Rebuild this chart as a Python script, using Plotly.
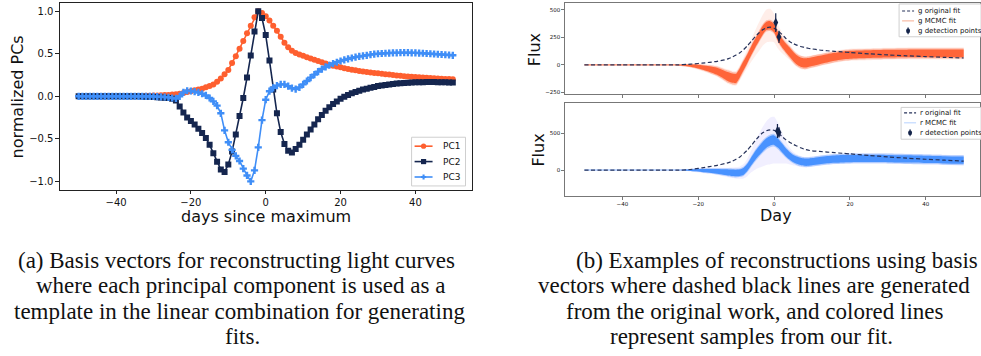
import plotly.graph_objects as go

# ---------------- Left panel data: normalized PCs vs days since maximum ----------------
days = list(range(-50, 51))

pc1 = [0.0] * 15 + [
    0.003, 0.004, 0.005, 0.006, 0.007, 0.008, 0.01, 0.012, 0.014, 0.016,
    0.02, 0.025, 0.03, 0.04, 0.05, 0.06, 0.07, 0.08, 0.09, 0.105,
    0.12, 0.14, 0.17, 0.21, 0.26, 0.31, 0.39, 0.47, 0.56, 0.65,
    0.74, 0.83, 0.93, 1.0, 0.98, 0.94, 0.89, 0.83, 0.77, 0.70,
    0.63, 0.575, 0.535, 0.51, 0.49, 0.475, 0.46, 0.445, 0.43, 0.415,
    0.40, 0.385, 0.37, 0.36, 0.35, 0.34, 0.33, 0.32, 0.312, 0.305,
    0.297, 0.29, 0.285, 0.28, 0.275, 0.27, 0.265, 0.26, 0.255, 0.25,
    0.245, 0.24, 0.237, 0.234, 0.231, 0.228, 0.225, 0.222, 0.219, 0.216,
    0.213, 0.21, 0.207, 0.204, 0.202, 0.2]

pc2 = [0.0] * 17 + [
    -0.002, -0.004, -0.006, -0.008, -0.01, -0.013, -0.016, -0.02, -0.03, -0.05,
    -0.12, -0.19, -0.25, -0.29, -0.33, -0.38, -0.43, -0.49, -0.57, -0.67,
    -0.77, -0.86, -0.89, -0.80, -0.65, -0.45, -0.23, -0.02, 0.22, 0.48,
    0.76, 1.0, 0.92, 0.72, 0.42, 0.08, -0.2, -0.42, -0.56, -0.64,
    -0.66, -0.62, -0.57, -0.51, -0.45, -0.39, -0.33, -0.27, -0.22, -0.17,
    -0.13, -0.09, -0.06, -0.03, -0.005, 0.015, 0.035, 0.05, 0.065, 0.08,
    0.09, 0.10, 0.11, 0.12, 0.127, 0.134, 0.14, 0.145, 0.15, 0.154,
    0.157, 0.16, 0.162, 0.164, 0.165, 0.166, 0.167, 0.167, 0.167, 0.166,
    0.165, 0.164, 0.163, 0.162]

pc3 = [0.0] * 20 + [
    -0.002, -0.004, -0.006, -0.008, -0.012, -0.02, -0.025, 0.0, 0.045, 0.065,
    0.062, 0.055, 0.045, 0.03, 0.01, -0.02, -0.06, -0.11, -0.2, -0.4,
    -0.54, -0.63, -0.70, -0.76, -0.85, -0.93, -1.0, -0.87, -0.6, -0.28,
    -0.04, 0.06, 0.1, 0.125, 0.14, 0.14, 0.12, 0.095, 0.085, 0.105,
    0.14, 0.18, 0.22, 0.255, 0.29, 0.32, 0.345, 0.365, 0.385, 0.40,
    0.415, 0.428, 0.44, 0.45, 0.46, 0.468, 0.475, 0.482, 0.49, 0.495,
    0.50, 0.503, 0.506, 0.508, 0.51, 0.511, 0.512, 0.512, 0.512, 0.511,
    0.51, 0.508, 0.506, 0.503, 0.5, 0.497, 0.494, 0.491, 0.488, 0.485,
    0.482]

pc_names = ["PC1", "PC2", "PC3"]
x_ticks_left = [-40, -20, 0, 20, 40]
y_ticks_left = [-1.0, -0.5, 0.0, 0.5, 1.0]

# ---------------- Right panels data: reconstructions (flux vs day) ----------------
fit_days = [-50, -45, -40, -35, -30, -25, -23, -21, -19, -17, -15, -13,
            -12, -11, -10, -9, -8, -7, -6, -5, -4, -3, -2, -1,
            0, 1, 2, 3, 4, 5, 6, 7, 8, 9, 10,
            12, 14, 16, 18, 20, 25, 30, 35, 40, 45, 50]

g_orig = [0, 0, 0, 0, 0, 1, 5, 10, 16, 24, 33, 47,
          58, 72, 90, 110, 140, 175, 215, 255, 290, 320, 338, 343,
          333, 310, 280, 245, 215, 195, 180, 168, 160, 152, 146,
          136, 129, 123, 118, 113, 101, 91, 83, 76, 69, 63]
g_mcmc = [0, 0, 0, 0, 0, -1, -4, -10, -22, -38, -58, -92,
          -108, -120, -122, -70, -5, 60, 130, 195, 255, 315, 355, 360,
          335, 260, 205, 160, 120, 80, 46, 26, 18, 22, 30,
          45, 60, 74, 85, 92, 98, 102, 104, 105, 105, 105]
g_core = [3, 3, 3, 3, 3, 4, 8, 14, 20, 26, 32, 38,
          42, 42, 42, 42, 42, 40, 40, 40, 40, 40, 38, 38,
          38, 40, 40, 40, 42, 42, 42, 42, 42, 40, 40,
          38, 38, 36, 36, 36, 35, 35, 35, 35, 35, 35]
g_halo = [5, 5, 5, 5, 5, 8, 14, 24, 32, 40, 50, 60,
          66, 68, 68, 70, 75, 85, 100, 115, 130, 140, 150, 150,
          130, 110, 95, 80, 70, 66, 64, 62, 60, 58, 58,
          56, 55, 55, 55, 55, 55, 55, 55, 55, 55, 55]

r_orig = [0, 0, 0, 0, 0, 0, 2, 15, 30, 48, 65, 88,
          102, 122, 148, 180, 225, 275, 335, 400, 460, 510, 538, 550,
          545, 510, 465, 420, 385, 355, 330, 305, 285, 272, 264,
          255, 246, 238, 230, 222, 200, 180, 163, 148, 135, 122]
r_mcmc = [0, 0, 0, 0, 0, 0, 0, -2, -5, -10, -18, -28,
          -33, -38, -40, -35, -15, 40, 120, 195, 260, 320, 370, 400,
          410, 370, 310, 250, 200, 160, 135, 118, 108, 108, 115,
          130, 142, 150, 155, 158, 160, 158, 152, 146, 140, 135]
r_core = [3, 3, 3, 3, 3, 4, 8, 14, 20, 26, 32, 38,
          42, 45, 45, 45, 48, 50, 55, 60, 62, 65, 65, 65,
          65, 62, 60, 56, 52, 50, 50, 50, 50, 50, 50,
          50, 50, 50, 50, 50, 50, 50, 50, 50, 50, 50]
r_halo = [5, 5, 5, 5, 5, 8, 14, 24, 34, 42, 50, 60,
          66, 72, 78, 85, 100, 120, 150, 190, 230, 270, 300, 320,
          320, 280, 220, 160, 120, 95, 80, 75, 72, 70, 70,
          70, 70, 70, 70, 70, 70, 70, 70, 70, 70, 70]

g_det_day = [0.45, 1.3]
g_det_flux = [385, 255]
g_det_err = [85, 55]
r_det_day = [0.9, 1.3]
r_det_flux = [535, 515]
r_det_err = [95, 70]

x_ticks_right = [-40, -20, 0, 20, 40]
y_ticks_g = [-250, 0, 250, 500]
y_ticks_r = [0, 500]

g_legend_labels = ["g original fit", "g MCMC fit", "g detection points"]
r_legend_labels = ["r original fit", "r MCMC fit", "r detection points"]

caption_a = ["(a) Basis vectors for reconstructing light curves",
             "where each principal component is used as a",
             "template in the linear combination for generating",
             "fits."]
caption_b = ["(b) Examples of reconstructions using basis",
             "vectors where dashed black lines are generated",
             "from the original work, and colored lines",
             "represent samples from our fit."]

# ---------------- Build figure ----------------
W, H = 981, 356
FONT = "DejaVu Sans"
C_ORANGE = "#fe5f2f"
C_NAVY = "#15264f"
C_BLUE = "#3f8ef7"
C_DASH = "#26325a"
C_DET = "#14244a"


def px(x):
    return x / W


def py(y):
    return 1 - y / H


fig = go.Figure()

# Left panel
styles = [(C_ORANGE, "circle"), (C_NAVY, "square"), (C_BLUE, "cross")]
for name, ys, (col, sym) in zip(pc_names, [pc1, pc2, pc3], styles):
    fig.add_trace(go.Scatter(
        x=days, y=ys, name=name, mode="lines+markers",
        line=dict(color=col, width=1.6),
        marker=dict(color=col, symbol=sym, size=6),
        xaxis="x", yaxis="y", showlegend=False))


def band(xs, mid, half, color, xa, ya):
    lo = [m - h for m, h in zip(mid, half)]
    hi = [m + h for m, h in zip(mid, half)]
    fig.add_trace(go.Scatter(x=xs, y=lo, mode="lines", line=dict(width=0, shape="spline", smoothing=0.7),
                             showlegend=False, hoverinfo="skip", xaxis=xa, yaxis=ya))
    fig.add_trace(go.Scatter(x=xs, y=hi, mode="lines", line=dict(width=0, shape="spline", smoothing=0.7),
                             fill="tonexty", fillcolor=color,
                             showlegend=False, hoverinfo="skip", xaxis=xa, yaxis=ya))


def panel(xs, orig, mcmc, core, halo, det_d, det_f, det_e, core_col, halo_col, xa, ya):
    band(xs, mcmc, halo, halo_col, xa, ya)
    band(xs, mcmc, [c * 1.35 for c in core], core_col.replace("0.9)", "0.35)"), xa, ya)
    band(xs, mcmc, core, core_col, xa, ya)
    fig.add_trace(go.Scatter(x=xs, y=orig, mode="lines",
                             line=dict(color=C_DASH, width=1.2, dash="4px,2.5px", shape="spline", smoothing=0.6),
                             xaxis=xa, yaxis=ya, showlegend=False))
    fig.add_trace(go.Scatter(x=det_d, y=det_f, mode="markers",
                             marker=dict(color=C_DET, symbol="diamond-tall", size=7),
                             error_y=dict(type="data", array=det_e, color=C_DET, thickness=1.2, width=0),
                             xaxis=xa, yaxis=ya, showlegend=False))


panel(fit_days, g_orig, g_mcmc, g_core, g_halo, g_det_day, g_det_flux, g_det_err,
      "rgba(255,92,45,0.9)", "rgba(255,150,120,0.16)", "x2", "y2")
panel(fit_days, r_orig, r_mcmc, r_core, r_halo, r_det_day, r_det_flux, r_det_err,
      "rgba(60,140,255,0.9)", "rgba(140,120,255,0.12)", "x3", "y3")

ax_common = dict(showgrid=False, zeroline=False, showline=True, mirror=True, ticks="outside")

left_dom_x = [px(60), px(472)]
right_dom_x = [px(566), 1.0]

fig.update_layout(
    width=W, height=H, margin=dict(l=0, r=0, t=0, b=0),
    paper_bgcolor="white", plot_bgcolor="white", showlegend=False,
    font=dict(family=FONT, color="#111"),
    xaxis=dict(domain=left_dom_x, range=[-55, 55], tickvals=x_ticks_left, anchor="y",
               linecolor="#222", linewidth=1, ticklen=3.5, tickcolor="#222",
               tickfont=dict(size=10, family=FONT), **ax_common),
    yaxis=dict(domain=[py(191), py(2.7)], range=[-1.1, 1.1], tickvals=y_ticks_left,
               tickformat=".1f", anchor="x",
               linecolor="#222", linewidth=1, ticklen=3.5, tickcolor="#222",
               tickfont=dict(size=10, family=FONT), **ax_common),
    xaxis2=dict(domain=right_dom_x, range=[-55, 54.3], tickvals=x_ticks_right, showticklabels=False,
                anchor="y2", linecolor="#777", linewidth=1, ticklen=3, tickcolor="#777", **ax_common),
    yaxis2=dict(domain=[py(94.3), py(2.7)], range=[-262, 566], tickvals=y_ticks_g, anchor="x2",
                linecolor="#777", linewidth=1, ticklen=3, tickcolor="#777",
                tickfont=dict(size=5.5, family=FONT), **ax_common),
    xaxis3=dict(domain=right_dom_x, range=[-55, 54.3], tickvals=x_ticks_right, anchor="y3",
                linecolor="#777", linewidth=1, ticklen=3, tickcolor="#777",
                tickfont=dict(size=5.5, family=FONT), **ax_common),
    yaxis3=dict(domain=[py(197), py(104)], range=[-354, 913], tickvals=y_ticks_r, anchor="x3",
                linecolor="#777", linewidth=1, ticklen=3, tickcolor="#777",
                tickfont=dict(size=5.5, family=FONT), **ax_common),
)

shapes = []
ann = []


def legend_frame(x0, y0, x1, y1):
    shapes.append(dict(type="rect", xref="paper", yref="paper",
                       x0=px(x0), x1=px(x1), y0=py(y1), y1=py(y0),
                       fillcolor="rgba(255,255,255,0.85)", line=dict(color="#cfcfcf", width=1)))


def leg_line(x0, x1, y, color, width=1.5, dash="solid"):
    shapes.append(dict(type="line", xref="paper", yref="paper",
                       x0=px(x0), x1=px(x1), y0=py(y), y1=py(y),
                       line=dict(color=color, width=width, dash=dash)))


def leg_marker(cx, cy, r, color, kind):
    if kind == "circle":
        shapes.append(dict(type="circle", xref="paper", yref="paper",
                           x0=px(cx - r), x1=px(cx + r), y0=py(cy + r), y1=py(cy - r),
                           fillcolor=color, line=dict(color=color, width=0)))
    elif kind == "square":
        shapes.append(dict(type="rect", xref="paper", yref="paper",
                           x0=px(cx - r), x1=px(cx + r), y0=py(cy + r), y1=py(cy - r),
                           fillcolor=color, line=dict(color=color, width=0)))
    elif kind == "cross":
        t = r * 0.4
        pts = [(cx - t, cy - r), (cx + t, cy - r), (cx + t, cy - t), (cx + r, cy - t), (cx + r, cy + t),
               (cx + t, cy + t), (cx + t, cy + r), (cx - t, cy + r), (cx - t, cy + t), (cx - r, cy + t),
               (cx - r, cy - t), (cx - t, cy - t)]
        path = "M " + " L ".join(f"{px(a):.5f},{py(b):.5f}" for a, b in pts) + " Z"
        shapes.append(dict(type="path", xref="paper", yref="paper", path=path,
                           fillcolor=color, line=dict(color=color, width=0)))


def leg_text(x, y, text, size):
    ann.append(dict(text=text, x=px(x), y=py(y), xanchor="left", yanchor="middle",
                    font=dict(size=size, family=FONT, color="#111")))


# Left legend
legend_frame(412, 138, 466, 187)
left_rows = [147, 162.5, 178]
left_cols = [C_ORANGE, C_NAVY, C_BLUE]
left_kinds = ["circle", "square", "cross"]
for name, yy, col, kind in zip(pc_names, left_rows, left_cols, left_kinds):
    leg_line(415, 433, yy, col, width=1.6)
    leg_marker(424, yy, 2.6, col, kind)
    leg_text(441, yy, name, 9)

# Right legends
for labels, (bx0, by0, bx1, by1), rows, (lx0, lx1), tx, mcmc_col in [
    (g_legend_labels, (900, 4, 985, 37), [11, 21, 31], (903, 915), 917, "#f7b59c"),
    (r_legend_labels, (902, 108, 985, 140), [113.5, 123.5, 133.5], (905, 917), 919, "#bcd5ff"),
]:
    legend_frame(bx0, by0, bx1, by1)
    leg_line(lx0, lx1, rows[0], C_DASH, width=1.1, dash="3px,2px")
    leg_line(lx0, lx1, rows[1], mcmc_col, width=1.1)
    mx = (lx0 + lx1) / 2
    shapes.append(dict(type="line", xref="paper", yref="paper", x0=px(mx), x1=px(mx),
                       y0=py(rows[2] - 3.5), y1=py(rows[2] + 3.5), line=dict(color=C_DET, width=1)))
    shapes.append(dict(type="circle", xref="paper", yref="paper", x0=px(mx - 2), x1=px(mx + 2),
                       y0=py(rows[2] + 2.6), y1=py(rows[2] - 2.6), fillcolor=C_DET, line=dict(width=0)))
    for lab, yy in zip(labels, rows):
        leg_text(tx, yy, lab, 7)

# Axis titles
ann.append(dict(text="normalized PCs", x=px(17), y=py(97), textangle=-90, xanchor="center", yanchor="middle",
                font=dict(size=16, family=FONT, color="#111")))
ann.append(dict(text="days since maximum", x=px(266), y=py(218), xanchor="center", yanchor="middle",
                font=dict(size=16, family=FONT, color="#111")))
ann.append(dict(text="Flux", x=px(535), y=py(50), textangle=-90, xanchor="center", yanchor="middle",
                font=dict(size=16, family=FONT, color="#111")))
ann.append(dict(text="Flux", x=px(539), y=py(151), textangle=-90, xanchor="center", yanchor="middle",
                font=dict(size=16, family=FONT, color="#111")))
ann.append(dict(text="Day", x=px(777), y=py(217), xanchor="center", yanchor="middle",
                font=dict(size=16, family=FONT, color="#111")))

# Captions
line_y = [262, 287.5, 313, 338]
cx_a = [236.5, 240.7, 240, 243]
cx_b = [777.5, 754.5, 756, 752]
for txt, yy, cx in zip(caption_a, line_y, cx_a):
    ann.append(dict(text=txt, x=px(cx), y=py(yy), xanchor="center", yanchor="middle",
                    font=dict(size=23, family="Liberation Serif", color="#111")))
for txt, yy, cx in zip(caption_b, line_y, cx_b):
    ann.append(dict(text=txt, x=px(cx), y=py(yy), xanchor="center", yanchor="middle",
                    font=dict(size=23, family="Liberation Serif", color="#111")))

for a in ann:
    a.update(xref="paper", yref="paper", showarrow=False)
fig.update_layout(annotations=ann, shapes=shapes)

fig.write_html("out.html", config={"displayModeBar": False},
               post_script="document.body.style.margin='0';")
